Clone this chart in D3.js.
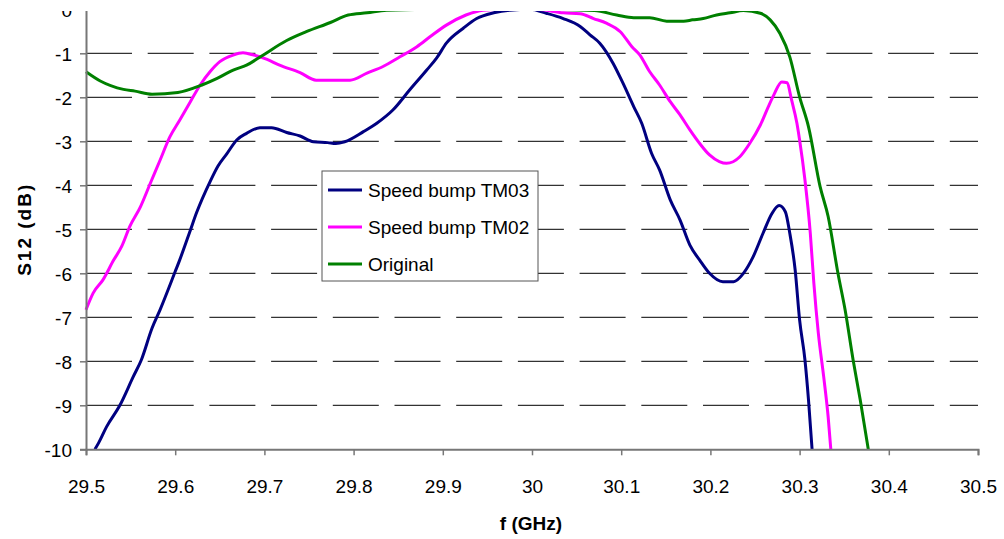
<!DOCTYPE html>
<html>
<head>
<meta charset="utf-8">
<script src="https://cdn.jsdelivr.net/npm/d3@7"></script>
<style>
  body { margin: 0; background: #fff; }
  svg { display: block; font-family: "Liberation Sans", Arial, sans-serif; }
</style>
</head>
<body>
<svg id="chart" width="1004" height="539"></svg>
<script>
// values
const xTicks = [29.5, 29.6, 29.7, 29.8, 29.9, 30, 30.1, 30.2, 30.3, 30.4, 30.5];
const yTicks = [0, -1, -2, -3, -4, -5, -6, -7, -8, -9, -10];
const seriesNames = ["Speed bump TM03", "Speed bump TM02", "Original"];
const seriesColors = ["#000080", "#ff00ff", "#008000"];

const tm03Freq = [29.510, 29.514, 29.523, 29.538, 29.553, 29.562, 29.574, 29.583, 29.600, 29.605, 29.617, 29.624,
  29.639, 29.648, 29.658, 29.669, 29.680, 29.695, 29.708, 29.725, 29.740, 29.755, 29.771, 29.780, 29.790, 29.811,
  29.826, 29.844, 29.863, 29.882, 29.893, 29.904, 29.923, 29.938, 29.957, 29.975, 29.998, 30.016, 30.035, 30.054,
  30.065, 30.076, 30.091, 30.102, 30.114, 30.123, 30.134, 30.143, 30.155, 30.166, 30.177, 30.188, 30.199, 30.214,
  30.226, 30.237, 30.248, 30.259, 30.269, 30.277, 30.284, 30.289, 30.295, 30.300, 30.306, 30.310, 30.314];
const tm03Db = [-10, -9.86, -9.49, -9.0, -8.35, -7.97, -7.25, -6.83, -5.96, -5.70, -5.02, -4.62,
  -3.92, -3.56, -3.28, -2.97, -2.82, -2.69, -2.69, -2.80, -2.88, -3.01, -3.03, -3.05, -3.01, -2.78,
  -2.59, -2.29, -1.83, -1.38, -1.11, -0.77, -0.43, -0.21, -0.08, -0.02, 0, -0.09, -0.21, -0.39,
  -0.58, -0.77, -1.23, -1.68, -2.21, -2.59, -3.27, -3.65, -4.33, -4.79, -5.36, -5.70, -6.0, -6.19,
  -6.19, -6.0, -5.62, -5.09, -4.64, -4.46, -4.60, -5.09, -5.92, -7.06, -7.97, -8.88, -10];

const tm02Freq = [29.500, 29.508, 29.519, 29.531, 29.540, 29.549, 29.561, 29.572, 29.583, 29.594, 29.605, 29.617,
  29.628, 29.639, 29.650, 29.665, 29.676, 29.688, 29.703, 29.717, 29.740, 29.758, 29.774, 29.796, 29.815, 29.833,
  29.852, 29.871, 29.886, 29.904, 29.926, 29.945, 29.970, 30.005, 30.035, 30.054, 30.069, 30.084, 30.099, 30.112,
  30.121, 30.132, 30.143, 30.155, 30.166, 30.177, 30.188, 30.199, 30.210, 30.218, 30.233, 30.244, 30.256, 30.265,
  30.271, 30.280, 30.286, 30.291, 30.297, 30.300, 30.306, 30.312, 30.316, 30.321, 30.327, 30.332, 30.335];
const tm02Db = [-6.83, -6.45, -6.15, -5.70, -5.39, -4.94, -4.49, -3.96, -3.43, -2.90, -2.52, -2.10,
  -1.72, -1.42, -1.19, -1.04, -0.99, -1.04, -1.14, -1.27, -1.44, -1.61, -1.61, -1.61, -1.45, -1.30,
  -1.08, -0.85, -0.62, -0.36, -0.13, -0.02, 0, 0, -0.08, -0.10, -0.21, -0.32, -0.51, -0.85,
  -1.04, -1.42, -1.72, -2.10, -2.40, -2.74, -3.05, -3.31, -3.46, -3.50, -3.35, -3.05, -2.63, -2.21,
  -1.95, -1.65, -1.67, -2.06, -2.59, -2.97, -3.88, -5.09, -6.23, -7.36, -8.35, -9.26, -10];

const origFreq = [29.500, 29.516, 29.542, 29.555, 29.574, 29.603, 29.630, 29.647, 29.665, 29.680, 29.697, 29.725,
  29.747, 29.774, 29.794, 29.815, 29.837, 29.900, 30.000, 30.070, 30.095, 30.114, 30.132, 30.151, 30.170, 30.180,
  30.192, 30.207, 30.222, 30.237, 30.256, 30.267, 30.278, 30.289, 30.300, 30.310, 30.323, 30.332, 30.343, 30.351,
  30.360, 30.368, 30.377];
const origDb = [-1.42, -1.63, -1.82, -1.86, -1.93, -1.89, -1.72, -1.57, -1.38, -1.27, -1.06, -0.71,
  -0.51, -0.30, -0.13, -0.08, -0.02, 0, 0, -0.03, -0.13, -0.19, -0.19, -0.27, -0.27, -0.24,
  -0.21, -0.13, -0.08, -0.03, -0.09, -0.24, -0.55, -1.08, -1.99, -2.67, -4.03, -4.71, -6.00, -6.83,
  -7.97, -8.88, -10];

const freqs = [tm03Freq, tm02Freq, origFreq];
const dbs = [tm03Db, tm02Db, origDb];

const svg = d3.select("#chart");
const plotLeft = 86, plotRight = 978, plotTop = 9.3, plotBottom = 449.3;

const x = d3.scaleLinear().domain([29.5, 30.5]).range([plotLeft, plotRight]);
const y = d3.scaleLinear().domain([-10, 0]).range([plotBottom, plotTop]);

// dashed grid
svg.append("g")
    .selectAll("line")
    .data(yTicks.filter(d => d !== -10))
    .enter().append("line")
    .attr("x1", plotLeft).attr("x2", plotRight)
    .attr("y1", d => y(d)).attr("y2", d => y(d))
    .attr("stroke", "#000")
    .attr("stroke-width", 1)
    .attr("stroke-dasharray", "46,15.7");

// series
const line = d3.line()
    .x(d => x(d[0]))
    .y(d => y(d[1]))
    .curve(d3.curveMonotoneX);

seriesNames.forEach((name, i) => {
    const pts = freqs[i].map((f, j) => [f, dbs[i][j]]);
    svg.append("path")
        .datum(pts)
        .attr("fill", "none")
        .attr("stroke", seriesColors[i])
        .attr("stroke-width", 3)
        .attr("stroke-linejoin", "round")
        .attr("d", line);
});

// axes
const xAxis = svg.append("g")
    .attr("transform", "translate(0," + plotBottom + ")")
    .call(d3.axisBottom(x).tickValues(xTicks).tickSize(6).tickPadding(24).tickFormat(d => String(d)));
const yAxis = svg.append("g")
    .attr("transform", "translate(" + plotLeft + ",0)")
    .call(d3.axisLeft(y).tickValues(yTicks).tickSize(6).tickPadding(8).tickFormat(d => String(d)));

[xAxis, yAxis].forEach(g => {
    g.select(".domain").attr("stroke", "#777").attr("stroke-width", 2);
    g.selectAll(".tick line").attr("stroke", "#777").attr("stroke-width", 1.5);
    g.selectAll(".tick text")
        .attr("fill", "#000")
        .style("font-family", "'Liberation Sans', Arial, sans-serif")
        .style("font-size", "19px");
});
yAxis.selectAll(".tick text").attr("dy", "0.38em");

// titles
svg.append("text")
    .attr("transform", "translate(31," + ((plotTop + plotBottom) / 2) + ") rotate(-90)")
    .attr("text-anchor", "middle")
    .style("font-size", "19px")
    .style("font-weight", "bold")
    .style("letter-spacing", "2px")
    .text("S12 (dB)");

svg.append("text")
    .attr("x", 531)
    .attr("y", 530)
    .attr("text-anchor", "middle")
    .style("font-size", "19px")
    .style("font-weight", "bold")
    .text("f (GHz)");

// legend
const legend = svg.append("g").attr("transform", "translate(322,171)");
legend.append("rect")
    .attr("width", 216).attr("height", 110)
    .attr("fill", "#fff")
    .attr("stroke", "#555")
    .attr("stroke-width", 1);

const rows = legend.selectAll(".legend")
    .data(seriesNames)
    .enter().append("g")
    .attr("class", "legend")
    .attr("transform", (d, i) => "translate(0," + (19 + i * 37) + ")");

rows.append("line")
    .attr("x1", 6).attr("x2", 40)
    .attr("stroke", (d, i) => seriesColors[i])
    .attr("stroke-width", 3);

rows.append("text")
    .attr("x", 46)
    .attr("dy", "0.35em")
    .style("font-size", "19px")
    .text(d => d);

// the picture is cut off just above the 0 dB line
svg.append("rect")
    .attr("x", 0).attr("y", 0)
    .attr("width", 1004).attr("height", 11)
    .attr("fill", "#fff");
</script>
</body>
</html>
